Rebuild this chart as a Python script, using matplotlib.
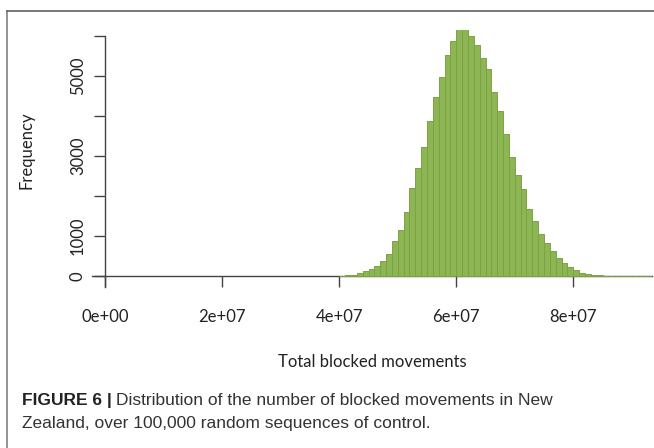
import numpy as np
import matplotlib
matplotlib.use("Agg")
import matplotlib.pyplot as plt
from matplotlib.lines import Line2D

# histogram counts, bins of 1e6 starting at 4e7
bin_start = 4.0e7
bin_width = 1.0e6
counts = [5, 17, 33, 67, 117, 175, 242, 367, 550, 867,
          1150, 1592, 2192, 2708, 3233, 3883, 4475, 4967, 5533, 5883,
          6200, 6200, 6008, 5775, 5450, 5167, 4592, 4133, 3542, 2967,
          2533, 2175, 1675, 1383, 1050, 817, 633, 450, 325, 217,
          150, 83, 50, 33, 17, 10, 8, 5, 4, 3, 2, 2, 1, 1]
x_ticks = [0, 2e7, 4e7, 6e7, 8e7]
x_labels = ["0e+00", "2e+07", "4e+07", "6e+07", "8e+07"]
y_ticks = [0, 1000, 2000, 3000, 4000, 5000, 6000]
y_labels = ["0", "1000", "", "3000", "", "5000", ""]

W, H = 654, 448
fig = plt.figure(figsize=(W / 100, H / 100), dpi=100)

# axes placed in pixel units
left, right, top, bottom = 92, 652, 30, 290
ax = fig.add_axes([left / W, 1 - bottom / H, (right - left) / W, (bottom - top) / H])

edges = bin_start + bin_width * np.arange(len(counts))
ax.bar(edges, counts, width=bin_width, align="edge",
       color="#8db553", edgecolor="#7aa442", linewidth=0.7, zorder=3)

# px = 105.3 + 5.85 * x/1e6 ; py = 276 - 0.04 * y
ax.set_xlim((left - 105.3) / 5.85 * 1e6, (right - 105.3) / 5.85 * 1e6)
ax.set_ylim(-(bottom - 276) / 0.04, (276 - top) / 0.04)

axcol = "#444444"
for s in ["top", "right"]:
    ax.spines[s].set_visible(False)
ax.spines["left"].set_position(("data", 0))
ax.spines["left"].set_bounds(-275, 6000)
ax.spines["bottom"].set_position(("data", 0))
for s in ["left", "bottom"]:
    ax.spines[s].set_color(axcol)
    ax.spines[s].set_linewidth(1.0)

tfont = dict(family="Lato", size=12, color="#222222")
ax.set_xticks(x_ticks)
ax.set_xticklabels(x_labels, **tfont)
ax.set_yticks(y_ticks)
ax.set_yticklabels(y_labels, rotation=90, va="center", **tfont)
ax.tick_params(axis="both", direction="out", length=7.9, width=1.0, color=axcol)
ax.tick_params(axis="x", pad=15.5)
ax.tick_params(axis="y", pad=6)
ax.patch.set_alpha(0)

fig.text(372 / W, 1 - 362 / H, "Total blocked movements", ha="center", va="center", **tfont)
fig.text(26 / W, 1 - 150 / H, "Frequency", ha="center", va="center", rotation=90, **tfont)

# frame around the figure panel
fig.add_artist(Line2D([7 / W, 7 / W], [0, 1 - 11 / H], transform=fig.transFigure, color="#808080", lw=1.2))
fig.add_artist(Line2D([7 / W, 1], [1 - 11 / H, 1 - 11 / H], transform=fig.transFigure, color="#606060", lw=1.2))

# caption
cfont = dict(family="Liberation Sans", size=12.5, color="#333333")
t1 = fig.text(22 / W, 1 - 400 / H, "FIGURE 6 |", ha="left", va="center", weight="bold",
              family="Liberation Sans", size=12.5, color="#222222")
fig.canvas.draw()
bb = t1.get_window_extent()
fig.text((bb.x1 + 4) / W, 1 - 400 / H, "Distribution of the number of blocked movements in New",
         ha="left", va="center", **cfont)
fig.text(22 / W, 1 - 423 / H, "Zealand, over 100,000 random sequences of control.",
         ha="left", va="center", **cfont)

fig.savefig("out.png", dpi=100)
